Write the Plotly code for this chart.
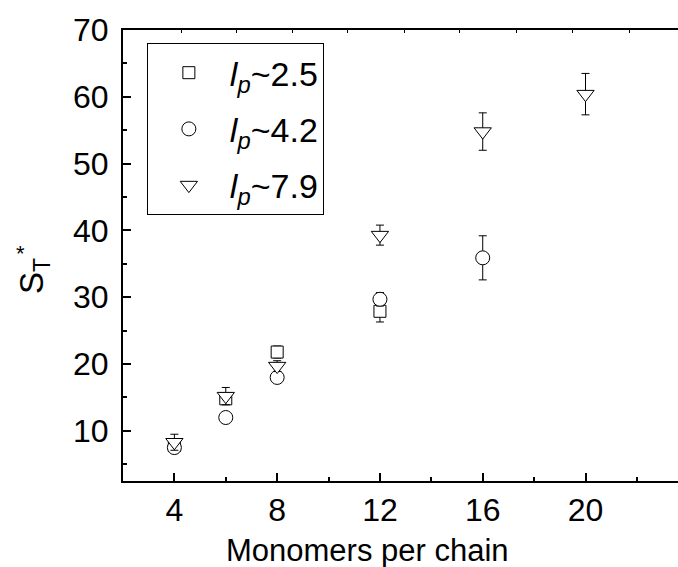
import plotly.graph_objects as go

# Data
x_vals = [4, 6, 8, 12]
sq_y = [7.8, 14.8, 21.8, 27.9]
sq_err = [0.5, 0.8, 0.9, 1.6]

x_circ = [4, 6, 8, 12, 16]
circ_y = [7.5, 12.0, 18.0, 29.7, 35.9]
circ_err = [0.6, 0.6, 0.6, 1.0, 3.3]

x_tri = [4, 6, 8, 12, 16, 20]
tri_y = [8.3, 15.2, 19.7, 39.3, 54.8, 60.4]
tri_err = [1.2, 1.3, 0.8, 1.5, 2.8, 3.1]

names = ["<i>l</i><sub><i>p</i></sub>~2.5", "<i>l</i><sub><i>p</i></sub>~4.2", "<i>l</i><sub><i>p</i></sub>~7.9"]

x_ticks = [4, 8, 12, 16, 20]
y_ticks = [10, 20, 30, 40, 50, 60, 70]

FONT = "Arial, Liberation Sans, sans-serif"

fig = go.Figure()

def add(xs, ys, errs, sym, size, name, group):
    fig.add_trace(go.Scatter(
        x=xs, y=ys, mode="markers", name=name, legendgroup=group,
        marker=dict(symbol=sym, size=size, color="white",
                    line=dict(color="black", width=1)),
        error_y=dict(type="data", array=errs, visible=True, color="black",
                     thickness=1, width=4),
    ))

add(x_vals, sq_y, sq_err, "square", 12, names[0], "a")
add(x_circ, circ_y, circ_err, "circle", 14, names[1], "b")
add(x_tri, tri_y, tri_err, "triangle-down", 15, names[2], "c")

# invisible trace to carry the top axis
fig.add_trace(go.Scatter(x=[2, 23.6], y=[None, None], xaxis="x2", showlegend=False,
                         hoverinfo="skip"))

fig.update_layout(
    width=678, height=567,
    margin=dict(l=123, r=0, t=30, b=86),
    paper_bgcolor="white", plot_bgcolor="white",
    font=dict(family=FONT, size=32, color="black"),
    showlegend=True,
    legend=dict(
        x=0.043, y=0.971, xanchor="left", yanchor="top",
        bordercolor="black", borderwidth=1, bgcolor="white",
        font=dict(family=FONT, size=34, color="black"),
        tracegroupgap=9, itemwidth=72,
    ),
    xaxis=dict(
        range=[2, 23.6], showgrid=False, zeroline=False,
        showline=True, linecolor="black", linewidth=2,
        ticks="inside", ticklen=8, tickwidth=1.5, tickcolor="black",
        tickvals=x_ticks, ticklabelstandoff=0,
        minor=dict(dtick=2, tick0=0, ticks="inside", ticklen=4, tickcolor="black", tickwidth=1.5),
        tickfont=dict(size=32),
    ),
    xaxis2=dict(
        overlaying="x", side="top", range=[2, 23.6], showgrid=False, zeroline=False,
        showline=True, linecolor="black", linewidth=1.5,
        ticks="inside", ticklen=3, tickcolor="black",
        tickvals=[4.275, 6.43, 8.61, 10.75, 12.97, 15.1, 17.3, 19.5, 21.7],
        showticklabels=False,
    ),
    yaxis=dict(
        range=[2.5, 70], showgrid=False, zeroline=False,
        showline=True, linecolor="black", linewidth=2,
        ticks="inside", ticklen=8, tickwidth=1.5, tickcolor="black",
        tickvals=y_ticks, ticklabelstandoff=6,
        minor=dict(dtick=5, tick0=0, ticks="inside", ticklen=4, tickcolor="black", tickwidth=1.5),
        tickfont=dict(size=32),
    ),
    annotations=[
        dict(text="Monomers per chain", xref="paper", yref="paper", x=0.44, y=-0.11,
             xanchor="center", yanchor="top", showarrow=False, font=dict(size=31)),
        dict(text="S<sub>T</sub>", xref="paper", yref="paper", x=-0.16, y=0.455,
             xanchor="center", yanchor="middle", textangle=-90, showarrow=False,
             font=dict(size=33)),
        dict(text="*", xref="paper", yref="paper", x=-0.185, y=0.505,
             xanchor="center", yanchor="middle", showarrow=False, font=dict(size=22)),
    ],
)

fig.write_html("out.html")
